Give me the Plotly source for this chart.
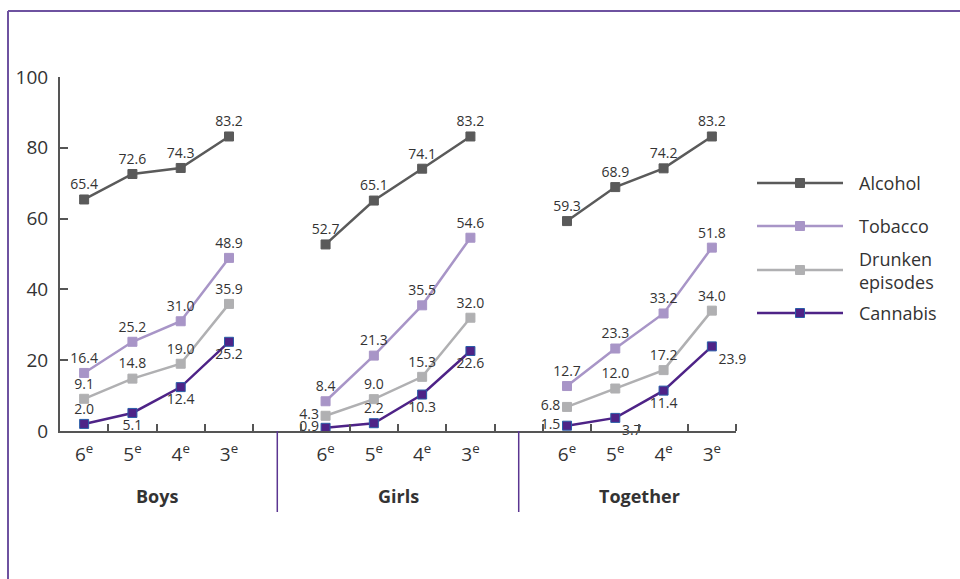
import plotly.graph_objects as go

# Survey shares (%) by school grade, for boys, girls and both together
groups = ["Boys", "Girls", "Together"]
grades = ["6", "5", "4", "3"]
series_names = ["Alcohol", "Tobacco", "Drunken episodes", "Cannabis"]

alcohol_boys = [65.4, 72.6, 74.3, 83.2]
alcohol_girls = [52.7, 65.1, 74.1, 83.2]
alcohol_together = [59.3, 68.9, 74.2, 83.2]

tobacco_boys = [16.4, 25.2, 31.0, 48.9]
tobacco_girls = [8.4, 21.3, 35.5, 54.6]
tobacco_together = [12.7, 23.3, 33.2, 51.8]

drunken_boys = [9.1, 14.8, 19.0, 35.9]
drunken_girls = [4.3, 9.0, 15.3, 32.0]
drunken_together = [6.8, 12.0, 17.2, 34.0]

cannabis_boys = [2.0, 5.1, 12.4, 25.2]
cannabis_girls = [0.9, 2.2, 10.3, 22.6]
cannabis_together = [1.5, 3.7, 11.4, 23.9]

y_ticks = [0, 20, 40, 60, 80, 100]

values = {
    "Alcohol": [alcohol_boys, alcohol_girls, alcohol_together],
    "Tobacco": [tobacco_boys, tobacco_girls, tobacco_together],
    "Drunken episodes": [drunken_boys, drunken_girls, drunken_together],
    "Cannabis": [cannabis_boys, cannabis_girls, cannabis_together],
}

colors = {
    "Alcohol": "#5a5a5a",
    "Tobacco": "#a895c7",
    "Drunken episodes": "#b0b0b2",
    "Cannabis": "#4e2387",
}
marker_lines = {
    "Alcohol": "#5a5a5a",
    "Tobacco": "#a895c7",
    "Drunken episodes": "#b0b0b2",
    "Cannabis": "#2a5ea8",
}

# Where each value label sits relative to its point (boys, girls, together)
TC, BC, ML, BR = "top center", "bottom center", "middle left", "bottom right"
label_pos = {
    "Alcohol": [[TC] * 4, [TC] * 4, [TC] * 4],
    "Tobacco": [[TC] * 4, [TC] * 4, [TC] * 4],
    "Drunken episodes": [[TC] * 4, [ML, TC, TC, TC], [ML, TC, TC, TC]],
    "Cannabis": [[TC, BC, BC, BC], [ML, TC, BC, BC], [ML, BR, BC, BR]],
}

# Category slots: four grades per group, one empty slot between groups
slots_per_group = len(grades) + 1


def slot(g, i):
    return g * slots_per_group + i


FONT = "Open Sans, Lato, sans-serif"
TEXT = "#333333"
AXIS = "#555555"
FRAME = "#6e52a0"

fig = go.Figure()

for name in series_names:
    for g, grp in enumerate(groups):
        ys = values[name][g]
        xs = [slot(g, i) for i in range(len(grades))]
        fig.add_trace(go.Scatter(
            x=xs, y=ys, mode="lines+markers+text",
            line=dict(color=colors[name], width=2.5),
            marker=dict(symbol="square", size=9, color=colors[name],
                        line=dict(color=marker_lines[name], width=1)),
            text=[f"{v:.1f}" for v in ys],
            textposition=label_pos[name][g],
            textfont=dict(family=FONT, size=14, color=TEXT),
            cliponaxis=False, showlegend=False, hoverinfo="skip",
        ))

# Plot area in pixels
W, H = 960, 579
L, R, T, B = 60, 736, 77, 431


def px_x(px):
    return (px - L) / (R - L)


def px_y(py):
    return (B - py) / (B - T)


n_slots = len(groups) * slots_per_group - 1
tickvals = [slot(g, i) for g in range(len(groups)) for i in range(len(grades))]
ticktext = [f"{gr}<sup>e</sup>" for _ in groups for gr in grades]

shapes = []
annotations = []

# Group names and separators under the axis
for g, grp in enumerate(groups):
    annotations.append(dict(
        x=slot(g, (len(grades) - 1) / 2), xref="x", y=px_y(496), yref="paper",
        xanchor="center", yanchor="middle",
        text=f"<b>{grp}</b>", showarrow=False,
        font=dict(family=FONT, size=18, color=TEXT)))
    if g > 0:
        sx = slot(g, -1)
        shapes.append(dict(type="line", xref="x", yref="paper",
                           x0=sx, x1=sx, y0=0, y1=px_y(512),
                           line=dict(color="#5b3591", width=1.5)))

# Outer frame: top rule and left rule
shapes.append(dict(type="line", xref="paper", yref="paper",
                   x0=px_x(8), x1=px_x(W), y0=px_y(11), y1=px_y(11),
                   line=dict(color=FRAME, width=2)))
shapes.append(dict(type="line", xref="paper", yref="paper",
                   x0=px_x(8), x1=px_x(8), y0=px_y(11), y1=px_y(H),
                   line=dict(color=FRAME, width=2)))

# Legend drawn at the right
legend_rows = [183, 226, 270, 313]
for name, ry in zip(series_names, legend_rows):
    shapes.append(dict(type="line", xref="paper", yref="paper",
                       x0=px_x(757), x1=px_x(843), y0=px_y(ry), y1=px_y(ry),
                       line=dict(color=colors[name], width=2.5)))
    shapes.append(dict(type="rect", xref="paper", yref="paper",
                       x0=px_x(795.5), x1=px_x(804.5),
                       y0=px_y(ry + 4.5), y1=px_y(ry - 4.5),
                       fillcolor=colors[name],
                       line=dict(color=marker_lines[name], width=1)))
    label = name.replace(" ", "<br>")
    annotations.append(dict(
        x=px_x(857), xref="paper", y=px_y(ry), yref="paper",
        xanchor="left", yanchor="middle", align="left",
        text=label, showarrow=False,
        font=dict(family=FONT, size=18, color=TEXT)))

fig.update_layout(
    width=W, height=H,
    margin=dict(l=L, r=W - R, t=T, b=H - B),
    paper_bgcolor="white", plot_bgcolor="white",
    showlegend=False,
    shapes=shapes, annotations=annotations,
    xaxis=dict(
        range=[-0.5, n_slots - 0.5], showgrid=False, zeroline=False,
        showline=True, linecolor=AXIS, linewidth=2,
        tickmode="array", tickvals=tickvals, ticktext=ticktext,
        ticks="", ticklabelstandoff=5,
        tickfont=dict(family=FONT, size=19, color=TEXT),
        minor=dict(tickmode="array",
                   tickvals=[k + 0.5 for k in range(n_slots)],
                   ticks="inside", ticklen=7, tickwidth=1.5, tickcolor=AXIS),
    ),
    yaxis=dict(
        range=[0, 100], showgrid=False, zeroline=False,
        showline=True, linecolor=AXIS, linewidth=2,
        tickmode="array", tickvals=y_ticks,
        ticks="inside", ticklen=8, tickwidth=1.5, tickcolor=AXIS,
        ticklabelstandoff=6,
        tickfont=dict(family=FONT, size=19, color=TEXT),
    ),
)

fig.write_html("out.html")
